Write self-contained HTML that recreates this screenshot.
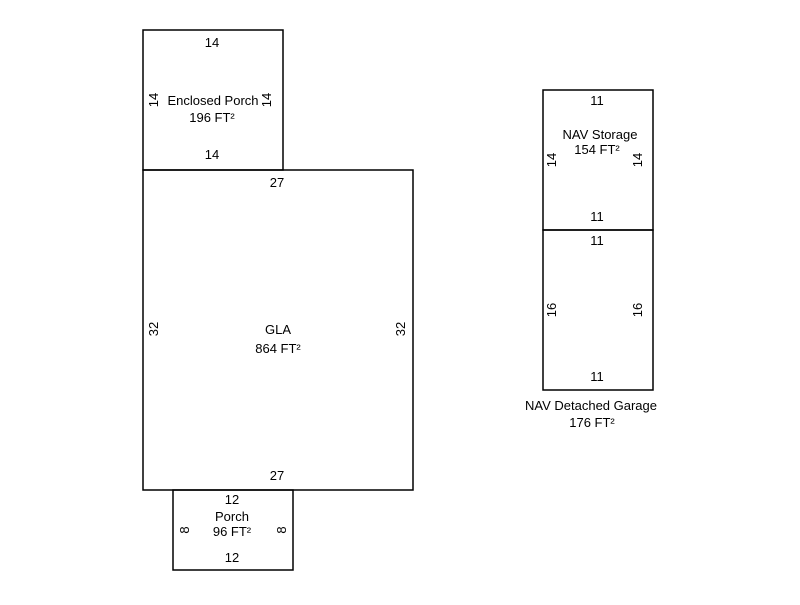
<!DOCTYPE html>
<html><head><style>html,body{margin:0;padding:0;background:#fff}</style></head>
<body>
<svg width="800" height="600" xmlns="http://www.w3.org/2000/svg" font-family="Liberation Sans, Arial, sans-serif" font-size="13" fill="#000">
<g fill="none" stroke="#000" stroke-width="1.5">
<rect x="143" y="30" width="140" height="140"/>
<rect x="143" y="170" width="270" height="320"/>
<rect x="173" y="490" width="120" height="80"/>
<rect x="543" y="90" width="110" height="140"/>
<rect x="543" y="230" width="110" height="160"/>
</g>
<g text-anchor="middle">
<text x="212" y="47">14</text>
<text x="213" y="105">Enclosed Porch</text>
<text x="212" y="122">196 FT²</text>
<text x="212" y="159">14</text>
<text x="277" y="187">27</text>
<text x="278" y="334">GLA</text>
<text x="278" y="353">864 FT²</text>
<text x="277" y="480">27</text>
<text x="232" y="504">12</text>
<text x="232" y="521">Porch</text>
<text x="232" y="536">96 FT²</text>
<text x="232" y="562">12</text>
<text x="597" y="105">11</text>
<text x="600" y="139">NAV Storage</text>
<text x="597" y="154">154 FT²</text>
<text x="597" y="221">11</text>
<text x="597" y="245">11</text>
<text x="597" y="381">11</text>
<text x="591" y="410">NAV Detached Garage</text>
<text x="592" y="427">176 FT²</text>
<text transform="translate(158,100) rotate(-90)">14</text>
<text transform="translate(271,100) rotate(-90)">14</text>
<text transform="translate(158,329) rotate(-90)">32</text>
<text transform="translate(405,329) rotate(-90)">32</text>
<text transform="translate(189,530) rotate(-90)">8</text>
<text transform="translate(286,530) rotate(-90)">8</text>
<text transform="translate(556,160) rotate(-90)">14</text>
<text transform="translate(642,160) rotate(-90)">14</text>
<text transform="translate(556,310) rotate(-90)">16</text>
<text transform="translate(642,310) rotate(-90)">16</text>
</g>
</svg>
</body></html>
